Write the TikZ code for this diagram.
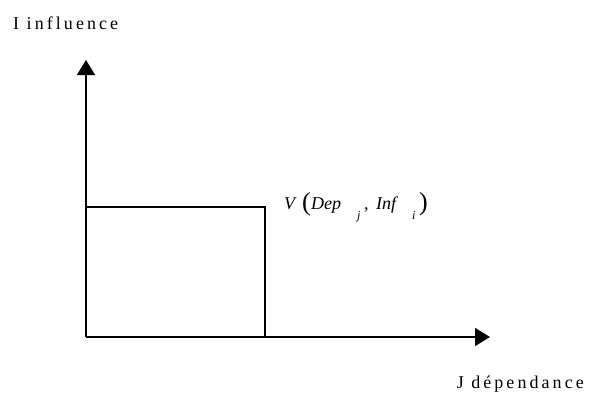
\documentclass[tikz,border=0pt]{standalone}
\usepackage{fontspec}
\setmainfont{Liberation Serif}
\newfontfamily\spaced[LetterSpace=17]{Liberation Serif}
\usetikzlibrary{arrows.meta}
\begin{document}
\begin{tikzpicture}[x=1pt,y=-1pt,
  axis/.style={line width=1.5pt,-{Triangle[width=18pt,length=15pt]}},
  box/.style={line width=1.5pt},
  lbl/.style={inner sep=0pt,font=\spaced\fontsize{18}{20}\selectfont},
  mt/.style={inner sep=0pt,anchor=base west,font=\fontsize{18}{20}\selectfont\itshape},
  sb/.style={inner sep=0pt,anchor=base west,font=\fontsize{12}{14}\selectfont\itshape},
  par/.style={inner sep=0pt,anchor=base west,font=\fontsize{26}{28}\selectfont}]
\useasboundingbox (0,0) rectangle (596,397);
\coordinate (O) at (86,337);
\coordinate (ytip) at (86,60);
\coordinate (xtip) at (490,337);
\coordinate (P) at (265,207);
\draw[axis] (O) -- (ytip);
\draw[axis] (O) -- (xtip);
\draw[box] (86,207) -- (P) -- (265,337);
\node[lbl,anchor=base west] (yl) at (13,29) {I influence};
\node[lbl,anchor=base east] (xl) at (584,388) {J dépendance};
\node[mt] (v) at (284,209) {V};
\node[par] (lp) at (302,210.5) {(};
\node[mt] (dep) at (311,209) {Dep};
\node[sb] (j) at (357,219) {j};
\node[mt] (cm) at (364,209) {,};
\node[mt] (inf) at (376,209) {Inf};
\node[sb] (i) at (412,219) {i};
\node[par] (rp) at (419,210.5) {)};
\end{tikzpicture}
\end{document}
